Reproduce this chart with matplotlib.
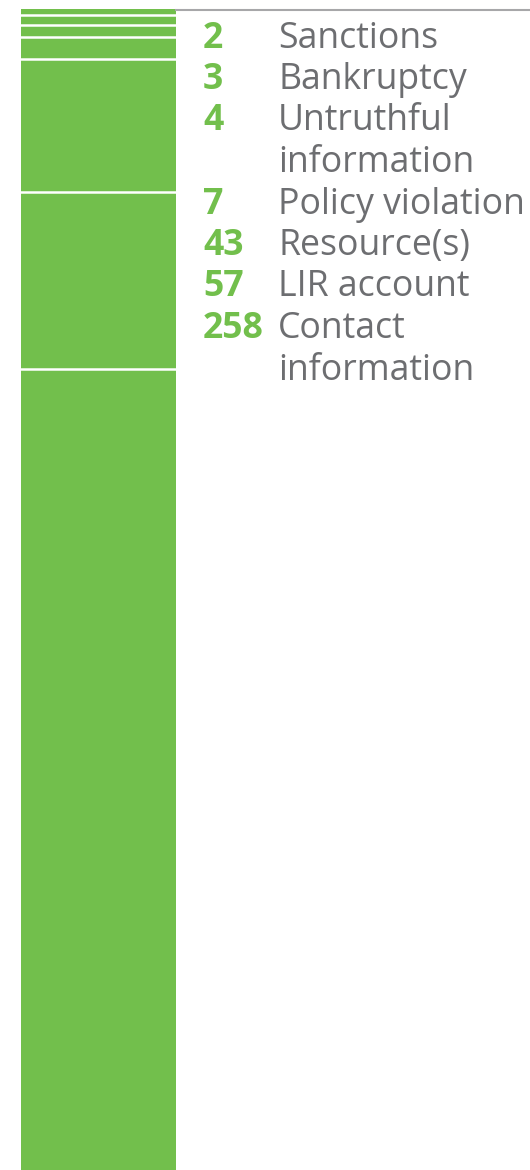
import matplotlib
matplotlib.use("Agg")
import matplotlib.pyplot as plt
import numpy as np

categories = ["Sanctions", "Bankruptcy", "Untruthful\ninformation", "Policy violation",
              "Resource(s)", "LIR account", "Contact\ninformation"]
counts = [2, 3, 4, 7, 43, 57, 258]

GREEN = "#72bf4c"
GRAY = "#6d6e71"
W, H = 530, 1170
fig = plt.figure(figsize=(W / 100, H / 100), dpi=100)

# stacked bar axis
ax = fig.add_axes([21 / W, 0, (176 - 21) / W, (H - 9) / H])
total = sum(counts)
# stack from bottom: largest at bottom
order = list(reversed(counts))
bottoms = np.concatenate([[0], np.cumsum(order)[:-1]])
ax.bar([0] * len(order), order, bottom=bottoms, width=1.0, color=GREEN, linewidth=0)
for b in np.cumsum(order)[:-1]:
    ax.axhline(b, color="white", linewidth=1.8)
ax.set_xlim(-0.5, 0.5)
ax.set_ylim(0, total)
ax.axis("off")

# gray rule at top
fig.add_artist(plt.Line2D([176 / W, 1], [1 - 10 / H, 1 - 10 / H], color="#a7a7a9", linewidth=1.5,
                          transform=fig.transFigure))

fs = 25.7
step = 41.5
y = 34.0
for n, lab in zip(counts, categories):
    fig.text(203 / W, 1 - y / H, str(n), color=GREEN, fontsize=fs, fontweight="bold",
             family="Open Sans", va="center_baseline", ha="left")
    for line in lab.split("\n"):
        fig.text(278 / W, 1 - y / H, line, color=GRAY, fontsize=fs, family="Open Sans",
                 va="center_baseline", ha="left")
        y += step

fig.savefig("out.png", dpi=100)
